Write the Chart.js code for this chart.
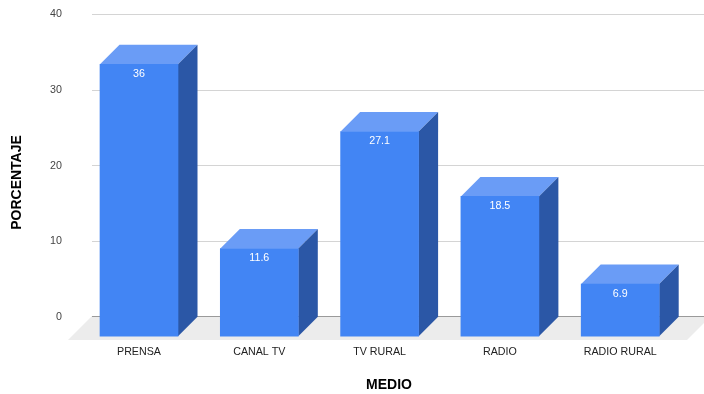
<!DOCTYPE html>
<html>
<head>
<meta charset="utf-8">
<title>Medio</title>
<script src="https://cdn.jsdelivr.net/npm/chart.js@4"></script>
<style>
    html, body { margin: 0; padding: 0; background: #ffffff; overflow: hidden; }
    canvas { display: block; }
</style>
</head>
<body>
<canvas id="mediaChart" width="704" height="394"></canvas>
<script>
const categories = ['PRENSA', 'CANAL TV', 'TV RURAL', 'RADIO', 'RADIO RURAL'];
const percentages = [36, 11.6, 27.1, 18.5, 6.9];
const yTickValues = [0, 10, 20, 30, 40];

const FONT = '"Liberation Sans", Arial, sans-serif';
const DEPTH = 19.5;

// floor, gridlines and the 3D faces behind the front of each bar
const boxPlugin = {
    id: 'box3d',
    beforeDatasetDraw(chart) {
        const ctx = chart.ctx;
        const y = chart.scales.y;
        const zero = y.getPixelForValue(0);
        const floorTop = Math.floor(zero);

        ctx.save();
        ctx.fillStyle = '#ececec';
        ctx.beginPath();
        ctx.moveTo(68, floorTop + 24);
        ctx.lineTo(92, floorTop);
        ctx.lineTo(711, floorTop);
        ctx.lineTo(687, floorTop + 24);
        ctx.closePath();
        ctx.fill();

        yTickValues.forEach(v => {
            const py = Math.floor(y.getPixelForValue(v)) + 0.5;
            ctx.strokeStyle = v === 0 ? '#9a9a9a' : '#d4d4d4';
            ctx.lineWidth = 1;
            ctx.beginPath();
            ctx.moveTo(92, py);
            ctx.lineTo(704, py);
            ctx.stroke();
        });

        chart.getDatasetMeta(0).data.forEach(bar => {
            const left = bar.x - bar.width / 2;
            const right = bar.x + bar.width / 2;
            const top = bar.y + DEPTH;
            const bottom = zero + DEPTH;

            ctx.fillStyle = '#6a9cf6';
            ctx.beginPath();
            ctx.moveTo(left, top);
            ctx.lineTo(left + DEPTH, top - DEPTH);
            ctx.lineTo(right + DEPTH, top - DEPTH);
            ctx.lineTo(right, top);
            ctx.closePath();
            ctx.fill();

            ctx.fillStyle = '#2b57a6';
            ctx.beginPath();
            ctx.moveTo(right, top);
            ctx.lineTo(right + DEPTH, top - DEPTH);
            ctx.lineTo(right + DEPTH, bottom - DEPTH);
            ctx.lineTo(right, bottom);
            ctx.closePath();
            ctx.fill();
        });
        ctx.restore();

        // the library's bars are the front faces, pushed forward by the depth
        ctx.save();
        ctx.translate(0, DEPTH);
    },
    afterDatasetDraw(chart) {
        chart.ctx.restore();
    },
    afterDraw(chart) {
        const ctx = chart.ctx;
        ctx.save();
        ctx.textAlign = 'center';
        ctx.textBaseline = 'middle';

        ctx.fillStyle = '#ffffff';
        ctx.font = '10.7px ' + FONT;
        chart.getDatasetMeta(0).data.forEach((bar, i) => {
            ctx.fillText(String(percentages[i]), bar.x, bar.y + DEPTH + 9.5);
        });

        ctx.fillStyle = '#000000';
        ctx.font = 'bold 14px ' + FONT;
        ctx.fillText('MEDIO', 389, 385);
        ctx.translate(17, 182.5);
        ctx.rotate(-Math.PI / 2);
        ctx.fillText('PORCENTAJE', 0, 0);
        ctx.restore();
    }
};

new Chart(document.getElementById('mediaChart'), {
    type: 'bar',
    data: {
        labels: categories,
        datasets: [{
            data: percentages,
            backgroundColor: '#4285f4',
            borderWidth: 0,
            barThickness: 78,
            clip: false
        }]
    },
    options: {
        responsive: false,
        animation: false,
        layout: { padding: { top: 14.5, right: 23.65, bottom: 0, left: 0 } },
        plugins: {
            legend: { display: false },
            tooltip: { enabled: false }
        },
        scales: {
            x: {
                afterFit: scale => { scale.height = 77.3; },
                border: { display: false },
                grid: { display: false, drawTicks: false },
                ticks: {
                    padding: 29.3,
                    maxRotation: 0,
                    autoSkip: false,
                    color: '#222222',
                    font: { family: FONT, size: 10.7 }
                }
            },
            y: {
                min: 0,
                max: 40,
                afterFit: scale => {
                    scale.width = 78.85;
                    // tick padding would otherwise push the plot area down
                    scale.paddingTop = 0;
                    scale.paddingBottom = 0;
                },
                border: { display: false },
                grid: { display: false, drawTicks: false },
                ticks: {
                    stepSize: 10,
                    padding: 17,
                    color: '#444444',
                    font: { family: FONT, size: 10.7 }
                }
            }
        }
    },
    plugins: [boxPlugin]
});
</script>
</body>
</html>
